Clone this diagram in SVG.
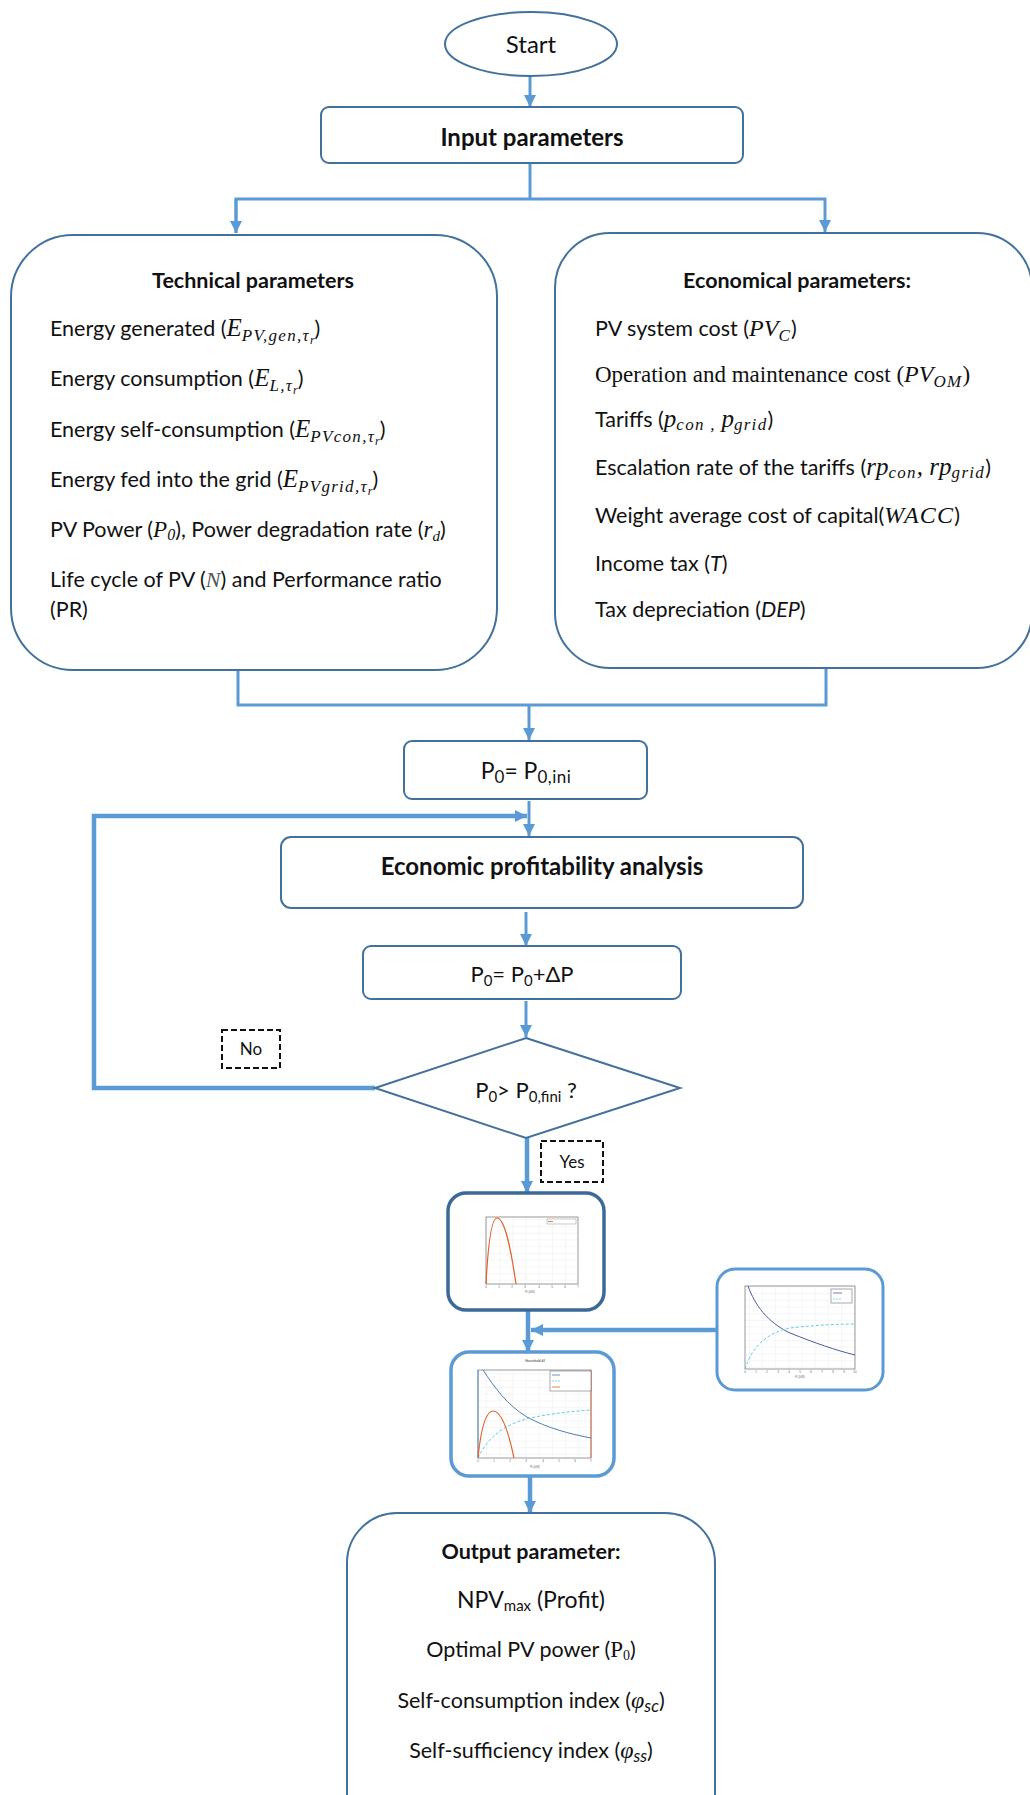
<svg xmlns="http://www.w3.org/2000/svg" width="1030" height="1795" viewBox="0 0 1030 1795">
<style>
.box{fill:#fff;stroke:#41719c;stroke-width:2}
.conn{stroke:#5b9bd5;stroke-width:3;fill:none}
.thick{stroke-width:4.5}
.t{font-family:Lato,"Liberation Sans",sans-serif;font-size:21.5px;fill:#111}
.b{font-weight:bold}
.c{text-anchor:middle}
.m{font-family:"Liberation Serif",serif;font-style:italic}
.s{font-family:"Liberation Serif",serif;font-style:italic;font-size:17px;letter-spacing:1.3px}
.ss{font-family:"Liberation Serif",serif;font-style:italic;font-size:12px}
.up{font-family:"Liberation Serif",serif}
.dash{fill:#fff;stroke:#111;stroke-width:2;stroke-dasharray:6 3}
.grid{stroke:#ddd;stroke-width:0.5;fill:none}
.ax{fill:none;stroke:#555;stroke-width:0.6}
.tick{font-family:"Liberation Sans",sans-serif;font-size:3px;fill:#666}
.tb{font-family:"Liberation Sans",sans-serif;font-size:3px;fill:#4a7fb8}
.to{font-family:"Liberation Sans",sans-serif;font-size:3px;fill:#e0622a}
</style>
<defs>
<marker id="ah" markerUnits="userSpaceOnUse" markerWidth="13" markerHeight="12" refX="12" refY="6" orient="auto">
<path d="M0,0 L12,6 L0,12 z" fill="#5b9bd5"/>
</marker>
<pattern id="g7" width="13.14" height="6.7" patternUnits="userSpaceOnUse"><path d="M0,0 V6.7 M0,0 H13.14" class="grid"/></pattern>
</defs>

<g id="connectors">
<line class="conn" x1="530" y1="76" x2="530" y2="107" marker-end="url(#ah)"/>
<polyline class="conn" points="530,164 530,199"/>
<polyline class="conn" points="236,233 236,199 825,199 825,232" marker-end="url(#ah)"/>
<line class="conn" x1="236" y1="199" x2="236" y2="233" marker-end="url(#ah)"/>
<polyline class="conn" points="238,670 238,705 826,705 826,668"/>
<line class="conn" x1="529" y1="705" x2="529" y2="740" marker-end="url(#ah)"/>
<line class="conn" x1="529" y1="801" x2="529" y2="836" marker-end="url(#ah)"/>
<polyline class="conn thick" points="375,1088 94,1088 94,816 527,816" marker-end="url(#ah)"/>
<line class="conn" x1="526" y1="912" x2="526" y2="946" marker-end="url(#ah)"/>
<line class="conn" x1="526" y1="1001" x2="526" y2="1037" marker-end="url(#ah)"/>
<line class="conn thick" x1="527" y1="1138" x2="527" y2="1193" marker-end="url(#ah)"/>
<line class="conn thick" x1="528" y1="1311" x2="528" y2="1352" marker-end="url(#ah)"/>
<line class="conn thick" x1="716" y1="1330" x2="531" y2="1330" marker-end="url(#ah)"/>
<line class="conn thick" x1="530" y1="1477" x2="530" y2="1513" marker-end="url(#ah)"/>
</g>

<g id="start">
<ellipse class="box" cx="531" cy="44" rx="86" ry="32"/>
<text class="t c" x="531" y="53" style="font-size:24px">Start</text>
</g>

<g id="input">
<rect class="box" x="321" y="107" width="422" height="56" rx="8"/>
<text class="t b c" x="532" y="146" style="font-size:24px">Input parameters</text>
</g>

<g id="technical">
<rect class="box" x="11" y="235" width="486" height="435" rx="62"/>
<text class="t b c" x="253" y="288">Technical parameters</text>
<text class="t" x="50" y="336">Energy generated (<tspan class="m" font-size="25">E</tspan><tspan class="s" dy="5">PV,gen,τ</tspan><tspan class="ss" dy="3">r</tspan><tspan dy="-8">)</tspan></text>
<text class="t" x="50" y="386">Energy consumption (<tspan class="m" font-size="25">E</tspan><tspan class="s" dy="5">L,τ</tspan><tspan class="ss" dy="3">r</tspan><tspan dy="-8">)</tspan></text>
<text class="t" x="50" y="437">Energy self-consumption (<tspan class="m" font-size="25">E</tspan><tspan class="s" dy="5">PVcon,τ</tspan><tspan class="ss" dy="3">r</tspan><tspan dy="-8">)</tspan></text>
<text class="t" x="50" y="487">Energy fed into the grid (<tspan class="m" font-size="25">E</tspan><tspan class="s" dy="5">PVgrid,τ</tspan><tspan class="ss" dy="3">r</tspan><tspan dy="-8">)</tspan></text>
<text class="t" x="50" y="537">PV Power (<tspan class="m" font-size="23">P</tspan><tspan class="m" font-size="16" dy="3">0</tspan><tspan dy="-3">), Power degradation rate (</tspan><tspan class="m" font-size="23">r</tspan><tspan class="m" font-size="15" dy="4">d</tspan><tspan dy="-4">)</tspan></text>
<text class="t" x="50" y="587">Life cycle of PV (<tspan class="m" font-size="22" fill="#555">N</tspan>) and Performance ratio</text>
<text class="t" x="50" y="617">(PR)</text>
</g>

<g id="economical">
<rect class="box" x="555" y="233" width="477" height="435" rx="55"/>
<text class="t b c" x="797" y="288">Economical parameters:</text>
<text class="t" x="595" y="336">PV system cost (<tspan class="m" font-size="24">PV</tspan><tspan class="s" dy="5">C</tspan><tspan dy="-5">)</tspan></text>
<text class="t up" x="595" y="382" style="font-size:23px">Operation and maintenance cost  (<tspan class="m" font-size="24">PV</tspan><tspan class="s" dy="5">OM</tspan><tspan dy="-5">)</tspan></text>
<text class="t" x="595" y="427">Tariffs (<tspan class="m" font-size="25">p</tspan><tspan class="s" font-size="18" dy="3">con , </tspan><tspan class="m" font-size="25" dy="-3">p</tspan><tspan class="s" font-size="18" dy="3">grid</tspan><tspan dy="-3">)</tspan></text>
<text class="t" x="595" y="475">Escalation rate of the tariffs (<tspan class="m" font-size="25">rp</tspan><tspan class="s" dy="3">con</tspan><tspan class="m" font-size="25" dy="-3">, rp</tspan><tspan class="s" dy="3">grid</tspan><tspan dy="-3">)</tspan></text>
<text class="t" x="595" y="523">Weight average cost of capital(<tspan class="m" font-size="24" letter-spacing="1.2">WACC</tspan>)</text>
<text class="t" x="595" y="571">Income tax (<tspan font-style="italic">T</tspan>)</text>
<text class="t" x="595" y="617">Tax depreciation (<tspan font-style="italic">DEP</tspan>)</text>
</g>

<g id="p0ini">
<rect class="box" x="404" y="741" width="243" height="58" rx="8"/>
<text class="t c" x="526" y="779" style="font-size:23px">P<tspan font-size="17" dy="4">0</tspan><tspan dy="-4">= P</tspan><tspan font-size="17" dy="4" letter-spacing="0.5">0,ini</tspan></text>
</g>

<g id="econ-analysis">
<rect class="box" x="281" y="837" width="522" height="71" rx="10"/>
<text class="t b c" x="542" y="875" style="font-size:24px">Economic profitability analysis</text>
</g>

<g id="p0inc">
<rect class="box" x="363" y="946" width="318" height="53" rx="8"/>
<text class="t c" x="522" y="982" style="font-size:22px">P<tspan font-size="15" dy="4">0</tspan><tspan dy="-4">= P</tspan><tspan font-size="15" dy="4">0</tspan><tspan dy="-4">+ΔP</tspan></text>
</g>

<g id="decision">
<polygon class="box" points="526,1038 680,1088 526,1138 375,1088"/>
<text class="t c" x="526" y="1098" style="font-size:22px">P<tspan font-size="15" dy="4">0</tspan><tspan dy="-4">&gt; P</tspan><tspan font-size="15" dy="4">0,fini</tspan><tspan dy="-4"> ?</tspan></text>
</g>

<g id="label-no">
<rect class="dash" x="222" y="1030" width="58" height="38"/>
<text class="t c" x="251" y="1055" style="font-size:17px">No</text>
</g>

<g id="label-yes">
<rect class="dash" x="541" y="1141" width="62" height="41"/>
<text class="t c" x="572" y="1168" style="font-size:17px">Yes</text>
</g>

<g id="chart-npv">
<rect x="448" y="1193" width="156" height="117" rx="18" fill="#fff" stroke="#3b6a99" stroke-width="3.5"/>
<rect x="486" y="1217" width="92" height="67" fill="url(#g7)"/>
<rect class="ax" x="486" y="1217" width="92" height="67"/>
<path d="M486,1284 C488,1245 491,1218 497,1218 C505,1218 511,1250 516,1284" fill="none" stroke="#e0622a" stroke-width="1.2"/>
<rect x="547" y="1219" width="29" height="5" fill="#fff" stroke="#777" stroke-width="0.4"/>
<line x1="548" y1="1221.5" x2="553" y2="1221.5" stroke="#e0622a" stroke-width="0.8"/>
<text class="tick" y="1288" text-anchor="middle"><tspan x="486">0</tspan><tspan x="499">1</tspan><tspan x="512">2</tspan><tspan x="525">3</tspan><tspan x="539">4</tspan><tspan x="552">5</tspan><tspan x="565">6</tspan><tspan x="578">7</tspan></text>
<text class="tick" x="530" y="1293" text-anchor="middle">P<tspan font-size="2">0</tspan>(kW)</text>
</g>

<g id="chart-household">
<rect x="451" y="1352" width="163" height="124" rx="18" fill="#fff" stroke="#5b9bd5" stroke-width="3.5"/>
<text class="tick" x="535" y="1362" text-anchor="middle" font-weight="bold" font-size="4" fill="#333">Household #2</text>
<rect x="478" y="1370" width="113" height="88" fill="url(#g7)"/>
<rect class="ax" x="478" y="1370" width="113" height="88"/>
<line x1="591" y1="1370" x2="591" y2="1458" stroke="#e0622a" stroke-width="0.8"/>
<line x1="478" y1="1370" x2="478" y2="1458" stroke="#4a86c5" stroke-width="0.8"/>
<path d="M483,1370 C495,1388 507,1405 527,1417 C547,1428 570,1434 591,1438" fill="none" stroke="#4a7fb8" stroke-width="1"/>
<path d="M478,1458 C488,1437 503,1425 530,1418 C555,1413 575,1411 591,1410" fill="none" stroke="#5cd0e8" stroke-width="1" stroke-dasharray="3 2"/>
<path d="M478,1458 C481,1428 486,1411 493,1411 C502,1411 509,1434 514,1458" fill="none" stroke="#e0622a" stroke-width="1.2"/>
<rect x="550" y="1371" width="41" height="20" fill="#fff" stroke="#555" stroke-width="0.5"/>
<line x1="552" y1="1375" x2="560" y2="1375" stroke="#4a7fb8" stroke-width="0.8"/>
<line x1="552" y1="1381" x2="560" y2="1381" stroke="#5cd0e8" stroke-width="0.8" stroke-dasharray="2 1"/>
<line x1="552" y1="1387" x2="560" y2="1387" stroke="#e0622a" stroke-width="0.8"/>
<text class="tick" y="1462" text-anchor="middle"><tspan x="478">0</tspan><tspan x="494">1</tspan><tspan x="510">2</tspan><tspan x="526">3</tspan><tspan x="543">4</tspan><tspan x="559">5</tspan><tspan x="575">6</tspan><tspan x="591">7</tspan></text>
<text class="tick" x="535" y="1468" text-anchor="middle">P<tspan font-size="2">0</tspan>(kW)</text>
</g>

<g id="chart-indices">
<rect x="717" y="1269" width="166" height="121" rx="18" fill="#fff" stroke="#5b9bd5" stroke-width="3"/>
<rect x="745" y="1286" width="110" height="83" fill="url(#g7)"/>
<rect class="ax" x="745" y="1286" width="110" height="83"/>
<path d="M748,1286 C755,1305 767,1322 790,1333 C815,1343 835,1350 855,1355" fill="none" stroke="#4b5aa8" stroke-width="1"/>
<path d="M745,1369 C752,1347 766,1333 790,1328 C815,1325 840,1324 855,1324" fill="none" stroke="#5cd0e8" stroke-width="1" stroke-dasharray="3 2"/>
<rect x="831" y="1289" width="21" height="14" fill="#fff" stroke="#555" stroke-width="0.5"/>
<line x1="833" y1="1293" x2="842" y2="1293" stroke="#4b5aa8" stroke-width="0.8"/>
<line x1="833" y1="1299" x2="842" y2="1299" stroke="#5cd0e8" stroke-width="0.8" stroke-dasharray="2 1"/>
<text class="tick" y="1373" text-anchor="middle"><tspan x="745">0</tspan><tspan x="756">1</tspan><tspan x="767">2</tspan><tspan x="778">3</tspan><tspan x="789">4</tspan><tspan x="800">5</tspan><tspan x="811">6</tspan><tspan x="822">7</tspan><tspan x="833">8</tspan><tspan x="844">9</tspan><tspan x="855">10</tspan></text>
<text class="tick" x="800" y="1378" text-anchor="middle">P<tspan font-size="2">0</tspan>(kW)</text>
</g>

<g id="output">
<rect class="box" x="347" y="1513" width="368" height="330" rx="50"/>
<text class="t b c" x="531" y="1559">Output parameter:</text>
<text class="t c" x="531" y="1608" style="font-size:23px">NPV<tspan font-size="15" dy="3">max</tspan><tspan dy="-3"> (Profit)</tspan></text>
<text class="t c" x="531" y="1657">Optimal PV power (<tspan class="up" font-size="23">P</tspan><tspan class="up" font-size="14" dy="3">0</tspan><tspan dy="-3">)</tspan></text>
<text class="t c" x="531" y="1708">Self-consumption index (<tspan class="m" font-size="24">φ</tspan><tspan font-style="italic" font-size="17" dy="4">sc</tspan><tspan dy="-4">)</tspan></text>
<text class="t c" x="531" y="1758">Self-sufficiency index (<tspan class="m" font-size="24">φ</tspan><tspan font-style="italic" font-size="17" dy="4">ss</tspan><tspan dy="-4">)</tspan></text>
</g>
</svg>
